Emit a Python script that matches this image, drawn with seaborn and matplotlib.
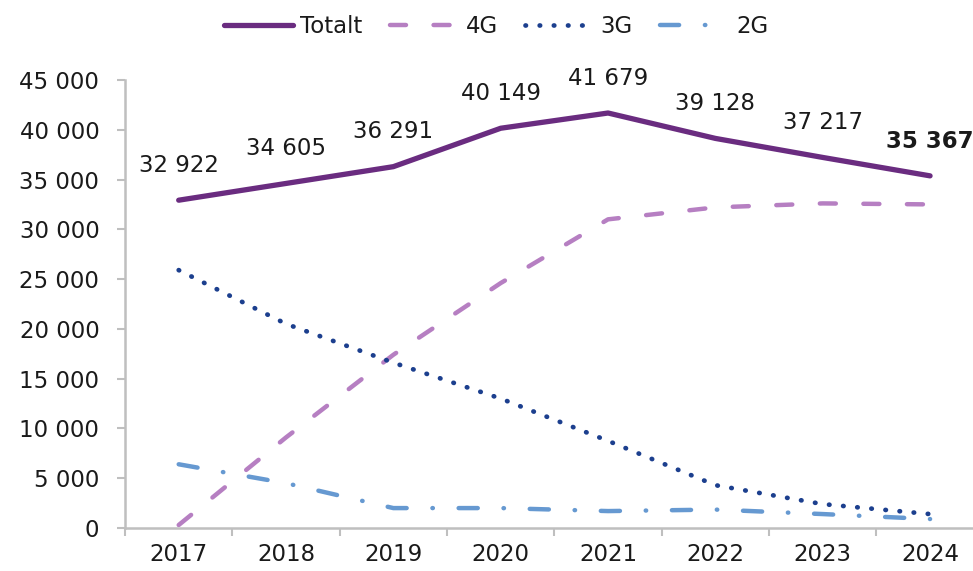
import numpy as np
import pandas as pd
import seaborn as sns
import matplotlib.pyplot as plt
from matplotlib.ticker import FuncFormatter, FixedLocator

years = ["2017", "2018", "2019", "2020", "2021", "2022", "2023", "2024"]
totalt = [32922, 34605, 36291, 40149, 41679, 39128, 37217, 35367]
g4 = [300, 9100, 17400, 24600, 31000, 32200, 32600, 32500]
g3 = [25900, 20500, 16600, 13000, 8750, 4300, 2400, 1400]
g2 = [6400, 4500, 2000, 2000, 1700, 1850, 1400, 900]

sns.set_theme(style="white")
plt.rcParams['font.family'] = ['DejaVu Sans']

fig = plt.figure(figsize=(9.73, 5.71), dpi=100)
ax = fig.add_axes([0.1285, 0.0753, 0.8715, 0.7847])

x = np.arange(len(years))

# serier: namn, värden, färg, linjebredd, streckmönster
series = [
    ("Totalt", totalt, "#6A2C80", 3.8, "-"),
    ("4G", g4, "#B67FC2", 3.2, (0, (3.6, 6.2))),
    ("3G", g3, "#1C3F8E", 3.4, (0, (0.1, 2.9))),
    ("2G", g2, "#6699D1", 3.2, (0, (4.3, 5.8, 0.1, 5.8))),
]
for name, vals, col, lw, ls in series:
    sns.lineplot(x=x, y=vals, ax=ax, color=col, lw=lw, linestyle=ls,
                 label=name, dash_capstyle="round", solid_capstyle="round")

# dataetiketter för totalt
for i, v in enumerate(totalt):
    lab = f"{v:,}".replace(",", " ")
    bold = i == len(totalt) - 1
    ax.annotate(lab, (x[i], v), xytext=(0, 25), textcoords="offset points",
                ha="center", va="center", fontsize=16.5, color="#1a1a1a",
                fontweight="bold" if bold else "normal")

ax.set_xlim(-0.5, 7.40)
ax.set_ylim(0, 45000)
ax.set_yticks(np.arange(0, 45001, 5000))
ax.yaxis.set_major_formatter(FuncFormatter(lambda v, p: f"{v:,.0f}".replace(",", " ")))
ax.set_xticks(x)
ax.set_xticklabels(years)
ax.xaxis.set_minor_locator(FixedLocator(np.arange(-0.5, 7.5, 1.0)))

for s in ["top", "right"]:
    ax.spines[s].set_visible(False)
for s in ["left", "bottom"]:
    ax.spines[s].set_color("#BFBFBF")
    ax.spines[s].set_linewidth(1.8)

ax.tick_params(axis="y", which="major", left=True, length=5.5, width=1.5,
               color="#BFBFBF", pad=13, labelsize=16.5, labelcolor="#1a1a1a")
ax.tick_params(axis="x", which="major", bottom=False, length=0, pad=11,
               labelsize=16.5, labelcolor="#1a1a1a")
ax.tick_params(axis="x", which="minor", bottom=True, length=5.5, width=1.5,
               color="#BFBFBF")
ax.set_xlabel("")
ax.set_ylabel("")
ax.grid(False)

ax.legend(loc="center", bbox_to_anchor=(0.51, 0.953), bbox_transform=fig.transFigure,
          ncol=4, frameon=False, fontsize=16.5, handlelength=3.0,
          handletextpad=0.3, columnspacing=1.2, labelcolor="#1a1a1a")

fig.savefig("out.png", dpi=100)
